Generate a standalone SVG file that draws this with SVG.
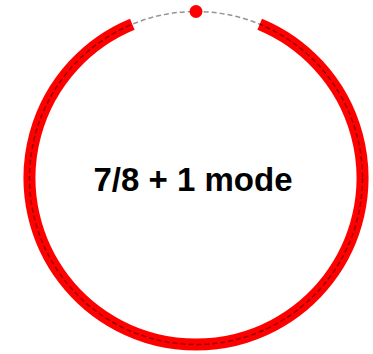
<svg xmlns="http://www.w3.org/2000/svg" width="373" height="354" viewBox="0 0 373 354">
<style>
.ring{fill:none;stroke:#ff0000;stroke-width:12;stroke-linecap:butt}
.track{fill:none;stroke:#000;stroke-opacity:0.42;stroke-width:1.5;stroke-dasharray:5 3}
.label{font-family:"Liberation Sans",Arial,sans-serif;font-weight:bold;font-size:33px;fill:#000}
</style>
<rect width="373" height="354" fill="#fff"/>
<g id="ring">
<path class="ring" d="M 259.7 24.2 A 166.5 166.5 0 1 1 132.3 24.2"/>
</g>
<g id="connectors">
<circle class="track" cx="196" cy="178" r="166.5"/>
</g>
<g id="dot">
<circle cx="196" cy="11.5" r="6.5" fill="#ff0000"/>
</g>
<g id="label">
<text class="label" x="193" y="191" text-anchor="middle">7/8 + 1 mode</text>
</g>
</svg>
